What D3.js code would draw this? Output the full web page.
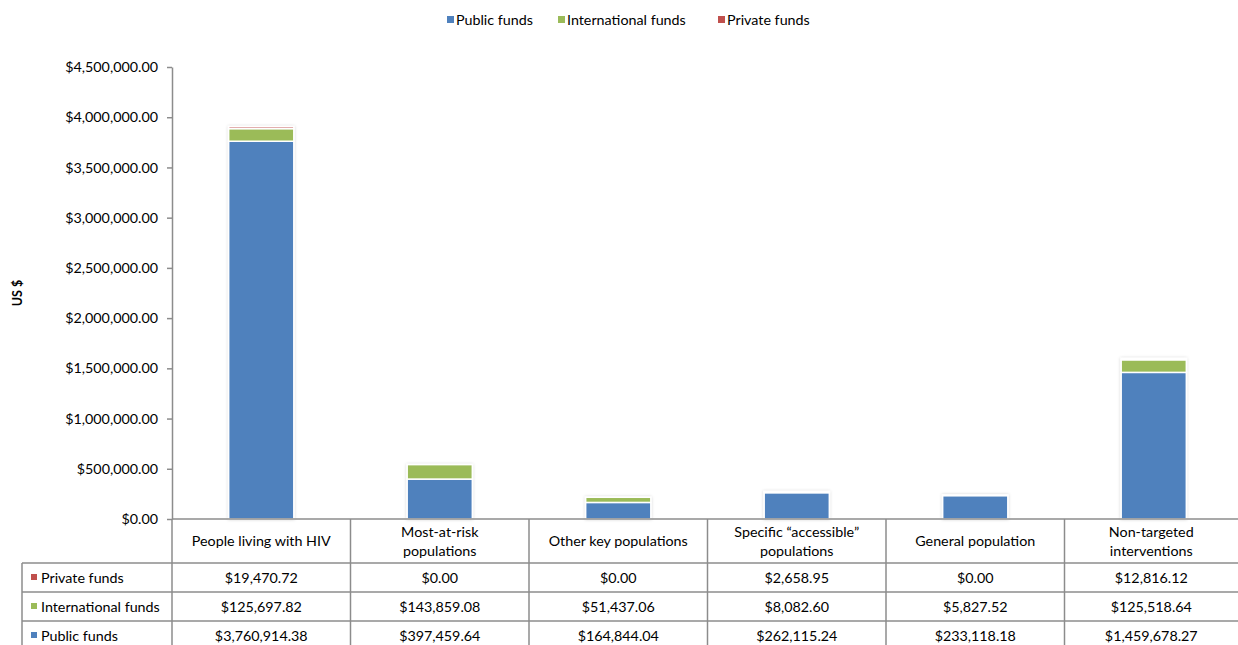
<!DOCTYPE html>
<html>
<head>
<meta charset="utf-8">
<script src="https://cdn.jsdelivr.net/npm/d3@7"></script>
<style>
  body { margin: 0; background: #fff; }
  svg { font-family: Lato, "Open Sans", sans-serif; }
</style>
</head>
<body>
<div id="chart"></div>
<script>
// data
const categories = [
  ['People living with HIV'],
  ['Most-at-risk', 'populations'],
  ['Other key populations'],
  ['Specific \u201caccessible\u201d', 'populations'],
  ['General population'],
  ['Non-targeted', 'interventions'],
];
const seriesNames = ['Public funds', 'International funds', 'Private funds'];
const publicFunds = [3760914.38, 397459.64, 164844.04, 262115.24, 233118.18, 1459678.27];
const internationalFunds = [125697.82, 143859.08, 51437.06, 8082.60, 5827.52, 125518.64];
const privateFunds = [19470.72, 0, 0, 2658.95, 0, 12816.12];
const yTicks = [0, 500000, 1000000, 1500000, 2000000, 2500000, 3000000, 3500000, 4000000, 4500000];

const colors = ['#4f81bd', '#9bbb59', '#c0504d'];
const width = 1238;
const height = 645;
const margin = { left: 172, right: -5, top: 67, bottom: 126 };
const gridColor = '#8c8c8c';
const fontSize = 14.3;
const fmt = d3.format('$,.2f');

const rows = categories.map((c, i) => ({
  key: i,
  'Public funds': publicFunds[i],
  'International funds': internationalFunds[i],
  'Private funds': privateFunds[i],
}));

const svg = d3.select('#chart').append('svg')
  .attr('width', width)
  .attr('height', height);

// soft shadow round the bars
const filter = svg.append('defs').append('filter')
  .attr('id', 'shadow')
  .attr('x', '-20%').attr('y', '-5%').attr('width', '140%').attr('height', '110%');
filter.append('feDropShadow')
  .attr('dx', 0).attr('dy', 0).attr('stdDeviation', 1.5)
  .attr('flood-color', '#000').attr('flood-opacity', 0.18);

const x = d3.scaleBand()
  .domain(d3.range(categories.length))
  .range([margin.left, width - margin.right]);

const y = d3.scaleLinear()
  .domain([0, 4500000])
  .range([height - margin.bottom, margin.top]);

const stacked = d3.stack().keys(seriesNames)(rows);
const barW = x.bandwidth() * 0.365;

// bars
svg.append('g')
  .attr('filter', 'url(#shadow)')
  .selectAll('g')
  .data(stacked)
  .join('g')
  .attr('fill', (d, i) => colors[i])
  .selectAll('rect')
  .data((d) => d.filter((p) => p[1] - p[0] > 0))
  .join('rect')
  .attr('x', (d) => x(d.data.key) + (x.bandwidth() - barW) / 2)
  .attr('y', (d) => y(d[1]))
  .attr('width', barW)
  .attr('height', (d) => y(d[0]) - y(d[1]))
  .attr('stroke', '#fff')
  .attr('stroke-width', 1.5);

// y axis
const yAxis = svg.append('g')
  .attr('transform', `translate(${margin.left},0)`)
  .call(d3.axisLeft(y).tickValues(yTicks).tickFormat(fmt).tickSize(5).tickSizeOuter(0).tickPadding(9));
yAxis.select('.domain').attr('stroke', gridColor).attr('stroke-width', 1.5);
yAxis.selectAll('.tick line').attr('stroke', gridColor).attr('stroke-width', 1.5);
yAxis.selectAll('.tick text').attr('font-size', fontSize).attr('fill', '#000').attr('font-family', 'Lato, sans-serif');

svg.append('text')
  .attr('transform', `translate(22,${(y(0) + y(4500000)) / 2}) rotate(-90)`)
  .attr('text-anchor', 'middle')
  .attr('font-size', 12.5)
  .attr('font-weight', 'bold')
  .text('US $');

// legend on top
const legendItems = [
  { name: 'Public funds', x: 447, color: colors[0] },
  { name: 'International funds', x: 558, color: colors[1] },
  { name: 'Private funds', x: 718, color: colors[2] },
];
const legend = svg.append('g').selectAll('g')
  .data(legendItems)
  .join('g')
  .attr('transform', (d) => `translate(${d.x},20)`);
legend.append('rect').attr('x', 0).attr('y', -4).attr('width', 7).attr('height', 7).attr('fill', (d) => d.color);
legend.append('text').attr('x', 9).attr('dy', '0.35em').attr('font-size', fontSize).text((d) => d.name);

// data table
const tableTop = y(0);
const headerH = 44;
const rowH = 29;
const tableLeft = 22;
const tableRight = width;
const tableRows = [
  { name: 'Private funds', values: privateFunds, color: colors[2] },
  { name: 'International funds', values: internationalFunds, color: colors[1] },
  { name: 'Public funds', values: publicFunds, color: colors[0] },
];
const table = svg.append('g');
const colCenter = (i) => {
  const x0 = x(i);
  const x1 = Math.min(x0 + x.bandwidth(), tableRight);
  return (x0 + x1) / 2;
};

// horizontal lines
table.append('line')
  .attr('x1', margin.left).attr('x2', tableRight)
  .attr('y1', tableTop).attr('y2', tableTop);
d3.range(tableRows.length + 1).forEach((r) => {
  const yy = tableTop + headerH + r * rowH;
  table.append('line')
    .attr('x1', tableLeft).attr('x2', tableRight)
    .attr('y1', yy).attr('y2', yy);
});
// vertical lines
table.append('line')
  .attr('x1', tableLeft).attr('x2', tableLeft)
  .attr('y1', tableTop + headerH).attr('y2', tableTop + headerH + tableRows.length * rowH);
d3.range(categories.length).forEach((i) => {
  table.append('line')
    .attr('x1', x(i)).attr('x2', x(i))
    .attr('y1', tableTop).attr('y2', tableTop + headerH + tableRows.length * rowH);
});
table.selectAll('line').attr('stroke', gridColor).attr('stroke-width', 1.5);

// header labels
table.selectAll('text.head')
  .data(categories)
  .join('text')
  .attr('class', 'head')
  .attr('text-anchor', 'middle')
  .attr('font-size', fontSize)
  .attr('x', (d, i) => colCenter(i))
  .attr('y', (d) => tableTop + headerH / 2 - (d.length - 1) * 9.5)
  .selectAll('tspan')
  .data((d) => d)
  .join('tspan')
  .attr('x', function () { return this.parentNode.getAttribute('x'); })
  .attr('dy', (d, i) => (i === 0 ? '0.35em' : 19))
  .text((d) => d);

// rows
tableRows.forEach((row, r) => {
  const cy = tableTop + headerH + r * rowH + rowH / 2;
  table.append('rect')
    .attr('x', tableLeft + 9).attr('y', cy - 3.5)
    .attr('width', 6).attr('height', 6)
    .attr('fill', row.color);
  table.append('text')
    .attr('x', tableLeft + 19).attr('y', cy).attr('dy', '0.35em')
    .attr('font-size', fontSize)
    .text(row.name);
  table.selectAll(null)
    .data(row.values)
    .join('text')
    .attr('x', (d, i) => colCenter(i))
    .attr('y', cy).attr('dy', '0.35em')
    .attr('text-anchor', 'middle')
    .attr('font-size', fontSize)
    .text((d) => fmt(d));
});
</script>
</body>
</html>
